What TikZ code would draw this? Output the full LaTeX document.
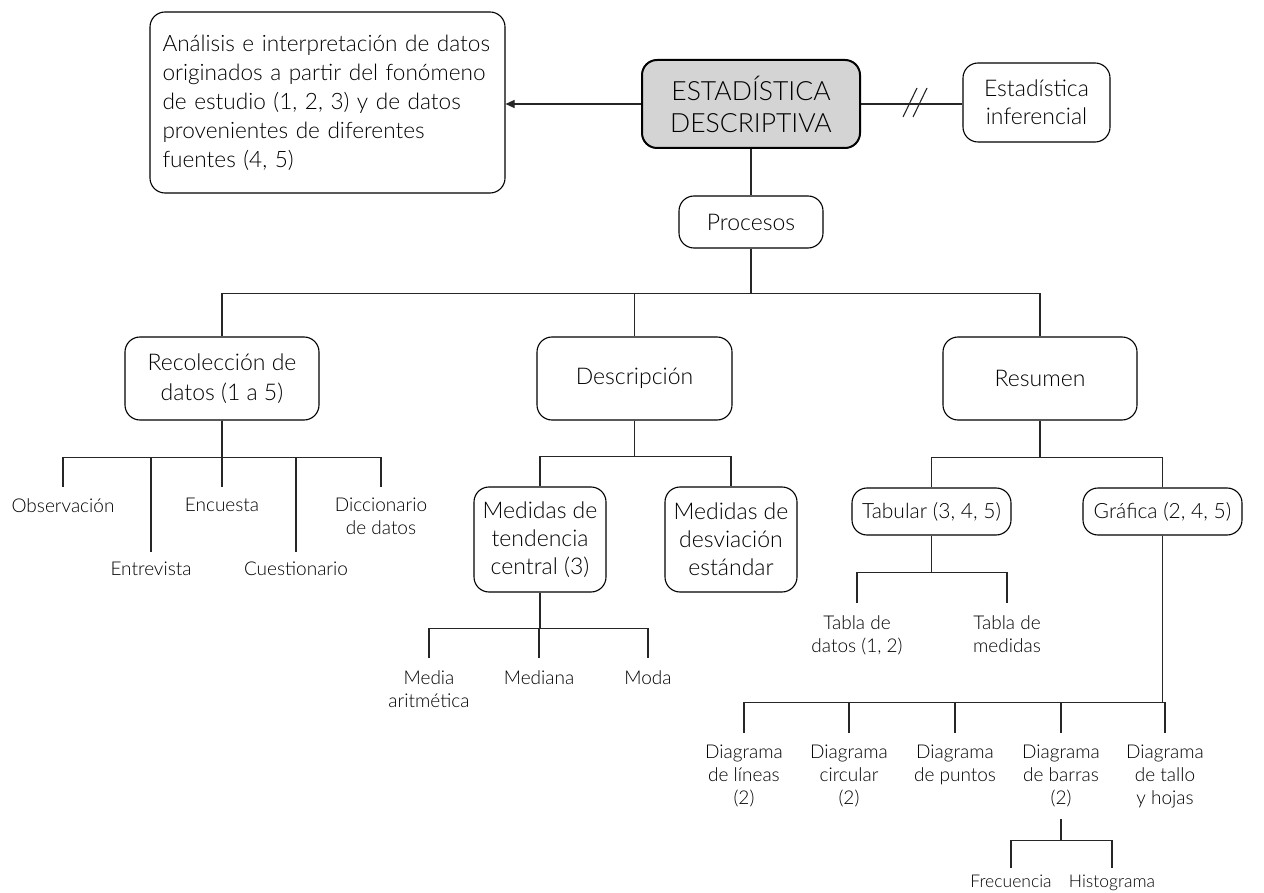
\documentclass[tikz,border=0pt]{standalone}
\usepackage{fontspec}
\setmainfont{Lato Light}
\usetikzlibrary{arrows.meta}
\tikzset{
  box/.style={draw=black, line width=1.1pt, rounded corners=15pt, align=center, inner sep=0pt,
    font=\fontsize{23}{30}\selectfont},
  leaf/.style={align=center, inner sep=0pt, anchor=north, font=\fontsize{19}{23}\selectfont},
  conn/.style={draw=black!85, line width=1.1pt},
}
\begin{document}
\begin{tikzpicture}[x=1pt,y=-1pt]
\useasboundingbox (0,0) rectangle (1264,893);

% main boxes
\node[box, minimum width=355pt, minimum height=181pt, text width=330pt, align=left,
  font=\fontsize{22.6}{29}\selectfont] (ana) at (327.5,102.5)
  {Análisis e interpretación de datos\\originados a partir del fonómeno\\de estudio (1, 2, 3) y de datos\\provenientes de diferentes\\fuentes (4, 5)};
\node[box, fill=black!17, line width=2pt, minimum width=218pt, minimum height=88pt,
  font=\fontsize{26.5}{32}\selectfont] (est) at (751,104) {ESTADÍSTICA\\DESCRIPTIVA};
\node[box, minimum width=147pt, minimum height=79pt, font=\fontsize{23}{28}\selectfont] (inf) at (1036.5,102.5) {Estadística\\inferencial};
\node[box, minimum width=144pt, minimum height=52pt] (proc) at (751,222) {Procesos};
\node[box, minimum width=194pt, minimum height=83pt] (rec) at (222,378.5) {Recolección de\\datos (1 a 5)};
\node[box, minimum width=195pt, minimum height=83pt] (desc) at (634.5,378.5) {Descripción};
\node[box, minimum width=194pt, minimum height=83pt] (res) at (1040,378.5) {Resumen};
\node[box, minimum width=132pt, minimum height=105pt, font=\fontsize{23}{28}\selectfont] (mtc) at (540,539.5) {Medidas de\\tendencia\\central (3)};
\node[box, minimum width=132pt, minimum height=105pt, font=\fontsize{23}{28}\selectfont] (mds) at (731,539.5) {Medidas de\\desviación\\estándar};
\node[box, minimum width=159pt, minimum height=47pt, font=\fontsize{21}{26}\selectfont] (tab) at (931.5,511.5) {Tabular (3, 4, 5)};
\node[box, minimum width=159pt, minimum height=47pt, font=\fontsize{21}{26}\selectfont] (gra) at (1162.5,511.5) {Gráfica (2, 4, 5)};

% leaves
\node[leaf] (obs) at (63,498) {Observación};
\node[leaf] (ent) at (151,562) {Entrevista};
\node[leaf] (enc) at (222,498) {Encuesta};
\node[leaf] (cue) at (296,562) {Cuestionario};
\node[leaf] (dic) at (381,498) {Diccionario\\de datos};

\node[leaf] (mar) at (429,670) {Media\\aritmética};
\node[leaf] (med) at (539,670) {Mediana};
\node[leaf] (mod) at (648,670) {Moda};

\node[leaf] (tdd) at (857,615) {Tabla de\\datos (1, 2)};
\node[leaf] (tdm) at (1007,615) {Tabla de\\medidas};

\node[leaf] (dli) at (744,745) {Diagrama\\de líneas\\(2)};
\node[leaf] (dci) at (849,745) {Diagrama\\circular\\(2)};
\node[leaf] (dpu) at (955,745) {Diagrama\\de puntos};
\node[leaf] (dba) at (1061,745) {Diagrama\\de barras\\(2)};
\node[leaf] (dta) at (1165,745) {Diagrama\\de tallo\\y hojas};

\node[leaf, font=\fontsize{17.5}{22}\selectfont] (fre) at (1011,875) {Frecuencia};
\node[leaf, font=\fontsize{17.5}{22}\selectfont] (his) at (1112,875) {Histograma};

% connectors
\draw[conn, -{Triangle[length=9pt,width=8pt]}] (est.west) -- (est.west -| ana.east);
\draw[conn] (est.east) -- (est.east -| inf.west);
\coordinate (brk) at (915,102);
\draw[conn] ([shift={(-12,15)}]brk) -- ++(14,-29);
\draw[conn] ([shift={(-2,15)}]brk) -- ++(14,-29);
\draw[conn] (est.south) -- (proc.north);

\foreach \c in {rec,desc,res} \draw[conn] (proc.south) -- ++(0,45) -| (\c.north);

\foreach \c in {obs,enc,dic} \draw[conn] (rec.south) -- ++(0,37) -| ([yshift=11pt]\c.north);
\foreach \c in {ent,cue} \draw[conn] (rec.south) -- ++(0,37) -| ([yshift=10pt]\c.north);

\foreach \c in {mtc,mds} \draw[conn] (desc.south) -- ++(0,36) -| (\c.north);
\foreach \c in {mar,med,mod} \draw[conn] (mtc.south) -- ++(0,36) -| ([yshift=12pt]\c.north);

\foreach \c in {tab,gra} \draw[conn] (res.south) -- ++(0,37) -| (\c.north);
\foreach \c in {tdd,tdm} \draw[conn] (tab.south) -- ++(0,37) -| ([yshift=12pt]\c.north);
\foreach \c in {dli,dci,dpu,dba,dta} \draw[conn] (gra.south) -- ++(0,167) -| ([yshift=12pt]\c.north);
\draw[conn] ([yshift=-12pt]dba.south) -- ++(0,21) coordinate (bb);
\foreach \c in {fre,his} \draw[conn] (bb) -| ([yshift=7pt]\c.north);
\end{tikzpicture}
\end{document}
